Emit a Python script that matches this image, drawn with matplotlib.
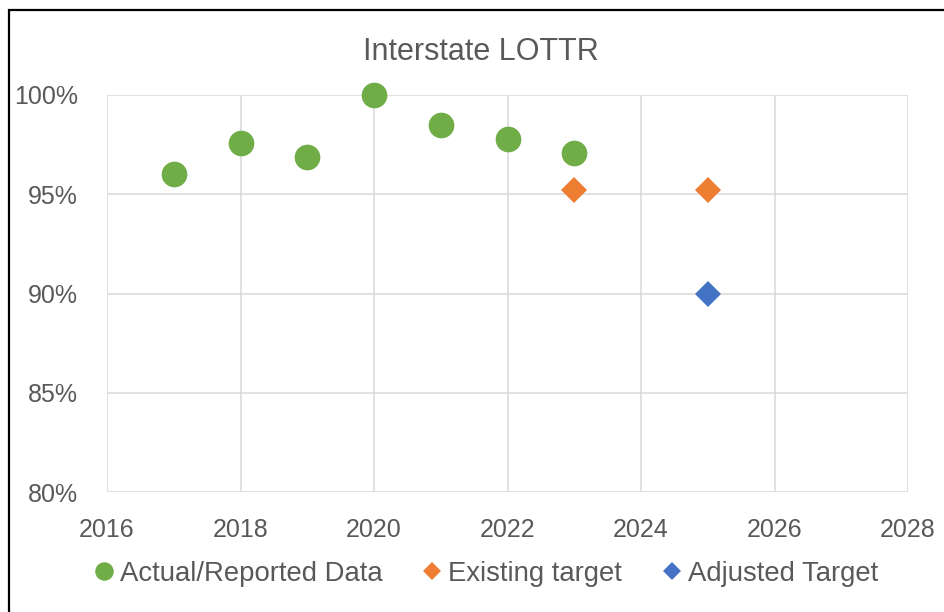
import matplotlib
matplotlib.use("Agg")
import matplotlib.pyplot as plt
from matplotlib.patches import Rectangle
from matplotlib.ticker import FuncFormatter

# data
actual_years = [2017, 2018, 2019, 2020, 2021, 2022, 2023]
actual_vals = [0.960, 0.976, 0.969, 1.000, 0.985, 0.978, 0.971]
existing_years = [2023, 2025]
existing_vals = [0.952, 0.952]
adjusted_years = [2025]
adjusted_vals = [0.900]

series_labels = ["Actual/Reported Data", "Existing target", "Adjusted Target"]
title = "Interstate LOTTR"

GREEN = "#70AD47"
ORANGE = "#ED7D31"
BLUE = "#4472C4"
TEXT = "#595959"
GRID = "#D9D9D9"

plt.rcParams["font.family"] = ["Liberation Sans", "DejaVu Sans"]

fig = plt.figure(figsize=(9.44, 6.12), dpi=100)
W, H = 944, 612
# plot area in pixels: left 107, right 908, top 95, bottom 492
ax = fig.add_axes([107 / W, 1 - 492 / H, (908 - 107) / W, (492 - 95) / H])

ax.plot(actual_years, actual_vals, "o", color=GREEN, markersize=18.5,
        markeredgewidth=0, label=series_labels[0], clip_on=False, zorder=3)
ax.plot(existing_years, existing_vals, "D", color=ORANGE, markersize=13,
        markeredgewidth=0, label=series_labels[1], clip_on=False, zorder=3)
ax.plot(adjusted_years, adjusted_vals, "D", color=BLUE, markersize=13,
        markeredgewidth=0, label=series_labels[2], clip_on=False, zorder=3)

ax.set_xlim(2016, 2028)
ax.set_ylim(0.80, 1.00)
ax.set_xticks(range(2016, 2029, 2))
ax.set_yticks([0.80, 0.85, 0.90, 0.95, 1.00])
ax.yaxis.set_major_formatter(FuncFormatter(lambda v, p: f"{v:.0%}"))
ax.grid(True, color=GRID, linewidth=1.1)
ax.set_axisbelow(True)
for s in ax.spines.values():
    s.set_visible(False)
ax.tick_params(axis="both", length=0, labelsize=18, labelcolor=TEXT)
ax.tick_params(axis="y", pad=21)
ax.tick_params(axis="x", pad=19)

fig.text(481 / W, 1 - 52 / H, title, ha="center", va="center",
         fontsize=22, color=TEXT)

leg = fig.legend(loc="center", bbox_to_anchor=(486 / W, 1 - 574 / H), ncol=3,
                 frameon=False, fontsize=19.8, handlelength=0.75,
                 handletextpad=0.2, columnspacing=1.45, markerscale=0.72,
                 borderpad=0)
for t in leg.get_texts():
    t.set_color(TEXT)

# chart border (only top and left edges show in the crop)
fig.patches.append(Rectangle((9 / W, -0.1), 1.2, 1 - 10 / H + 0.1,
                             transform=fig.transFigure, fill=False,
                             edgecolor="black", linewidth=1.6))

fig.savefig("out.png", dpi=100)
